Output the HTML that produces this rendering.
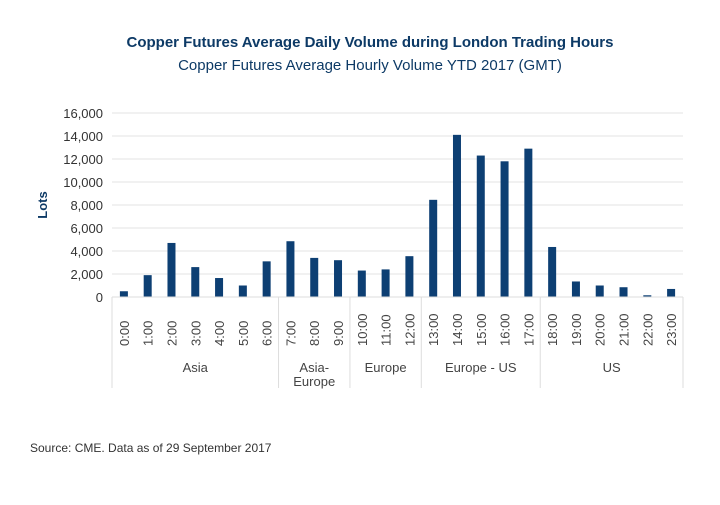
<!DOCTYPE html>
<html><head><meta charset="utf-8">
<style>
body{margin:0;background:#fff;width:720px;height:500px;overflow:hidden;font-family:"Liberation Sans",sans-serif;}
svg text{font-family:"Liberation Sans",sans-serif;}
</style></head>
<body>
<svg width="720" height="500" id="chart">
<text x="370" y="47" text-anchor="middle" font-size="15" font-weight="bold" fill="#0d3a66">Copper Futures Average Daily Volume during London Trading Hours</text>
<text x="370" y="70" text-anchor="middle" font-size="15" fill="#0d3a66">Copper Futures Average Hourly Volume YTD 2017 (GMT)</text>
<text transform="translate(47,205) rotate(-90)" text-anchor="middle" font-size="13" font-weight="bold" fill="#0d3a66">Lots</text>
<text x="30" y="452" font-size="12" fill="#333">Source: CME. Data as of 29 September 2017</text>
<g id="g"></g>
</svg>
<script>
const categories=["0:00","1:00","2:00","3:00","4:00","5:00","6:00","7:00","8:00","9:00","10:00","11:00","12:00","13:00","14:00","15:00","16:00","17:00","18:00","19:00","20:00","21:00","22:00","23:00"];
const values=[500,1900,4700,2600,1650,1000,3100,4850,3400,3200,2300,2400,3550,8450,14100,12300,11800,12900,4350,1350,1000,850,150,700];
const yTicks=[0,2000,4000,6000,8000,10000,12000,14000,16000];
const groupNames=[["Asia"],["Asia-","Europe"],["Europe"],["Europe - US"],["US"]];
const groupSizes=[7,3,3,5,6];
const NS="http://www.w3.org/2000/svg";
const g=document.getElementById('g');
const x0=112,x1=683,y0=297,y1=113,yMax=16000;
const bw=(x1-x0)/categories.length;
const X=i=>x0+bw*i;
const Y=v=>y0-(v/yMax)*(y0-y1);
function mk(t,a){const e=document.createElementNS(NS,t);for(const k in a)e.setAttribute(k,a[k]);g.appendChild(e);return e;}
yTicks.forEach(v=>{
  const l=mk('line',{x1:x0,x2:x1,y1:Y(v),y2:Y(v),stroke:'#e3e3e3','stroke-width':1});
  
  
  const t=mk('text',{x:103,y:Y(v)+5,'text-anchor':'end','font-size':13,fill:'#333'});
  t.textContent=v.toLocaleString('en-US');
  
  
});
values.forEach((v,i)=>{
  const cx=X(i)+bw/2;
  const r=mk('rect',{x:cx-4,y:Y(v),width:8,height:y0-Y(v),fill:'#0d3f73'});
  
  
  const t=mk('text',{transform:`translate(${cx+5},${346}) rotate(-90)`,'font-size':13,fill:'#444'});
  t.textContent=categories[i];
  
  
});
// axis box
const ax=mk('line',{x1:x0,x2:x1,y1:y0,y2:y0,stroke:'#ddd'});


let start=0;
const edges=[0];
groupSizes.forEach(s=>{start+=s;edges.push(start);});
edges.forEach(e=>{
  const l=mk('line',{x1:X(e),x2:X(e),y1:y0,y2:388,stroke:'#ddd'});
  
  
});
groupNames.forEach((lines,k)=>{
  const cx=(X(edges[k])+X(edges[k+1]))/2;
  lines.forEach((s,j)=>{
    const t=mk('text',{x:cx,y:372+j*14,'text-anchor':'middle','font-size':13,fill:'#444'});
    t.textContent=s;
    
    
  });
});
</script>
</body></html>
